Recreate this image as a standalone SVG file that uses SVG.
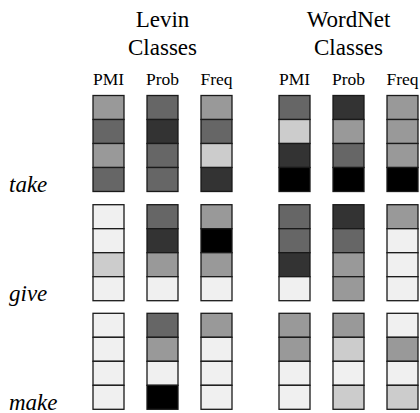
<svg xmlns="http://www.w3.org/2000/svg" width="420" height="413" viewBox="0 0 420 413">
  <style>
    text { font-family: "Liberation Serif", "Times New Roman", serif; fill: #000; }
    .title { font-size: 23px; text-anchor: middle; }
    .col { font-size: 17.5px; text-anchor: middle; }
    .verb { font-size: 23px; font-style: italic; }
    rect { stroke: #1a1a1a; stroke-width: 1.3; }
    .w { fill: #f0f0f0; }
    .l { fill: #cccccc; }
    .m { fill: #999999; }
    .d { fill: #666666; }
    .v { fill: #333333; }
    .k { fill: #000000; }
  </style>
  <defs>
    <!-- one cell of a column strip -->
    <rect id="cell" width="31" height="24"/>
  </defs>

  <!-- headings -->
  <g id="headings">
    <text class="title" x="162.5" y="27">Levin</text>
    <text class="title" x="162.5" y="55">Classes</text>
    <text class="title" x="348.5" y="27">WordNet</text>
    <text class="title" x="348.5" y="55">Classes</text>
    <text class="col" x="108.5" y="85">PMI</text>
    <text class="col" x="162.5" y="85">Prob</text>
    <text class="col" x="216.5" y="85">Freq</text>
    <text class="col" x="294.5" y="85">PMI</text>
    <text class="col" x="348.5" y="85">Prob</text>
    <text class="col" x="402.5" y="85">Freq</text>
  </g>

  <!-- verb labels -->
  <g id="verbs">
    <text class="verb" x="9" y="192">take</text>
    <text class="verb" x="9" y="301">give</text>
    <text class="verb" x="9" y="409.5">make</text>
  </g>

  <!-- take -->
  <g id="take">
    <g id="take-levin-pmi" transform="translate(93,95.5)">
      <rect class="m" y="0" width="31" height="24"/><rect class="d" y="24" width="31" height="24"/>
      <rect class="m" y="48" width="31" height="24"/><rect class="d" y="72" width="31" height="24"/>
    </g>
    <g id="take-levin-prob" transform="translate(147,95.5)">
      <rect class="d" y="0" width="31" height="24"/><rect class="v" y="24" width="31" height="24"/>
      <rect class="d" y="48" width="31" height="24"/><rect class="d" y="72" width="31" height="24"/>
    </g>
    <g id="take-levin-freq" transform="translate(201,95.5)">
      <rect class="m" y="0" width="31" height="24"/><rect class="d" y="24" width="31" height="24"/>
      <rect class="l" y="48" width="31" height="24"/><rect class="v" y="72" width="31" height="24"/>
    </g>
    <g id="take-wn-pmi" transform="translate(279,95.5)">
      <rect class="d" y="0" width="31" height="24"/><rect class="l" y="24" width="31" height="24"/>
      <rect class="v" y="48" width="31" height="24"/><rect class="k" y="72" width="31" height="24"/>
    </g>
    <g id="take-wn-prob" transform="translate(333,95.5)">
      <rect class="v" y="0" width="31" height="24"/><rect class="m" y="24" width="31" height="24"/>
      <rect class="d" y="48" width="31" height="24"/><rect class="k" y="72" width="31" height="24"/>
    </g>
    <g id="take-wn-freq" transform="translate(387,95.5)">
      <rect class="m" y="0" width="31" height="24"/><rect class="m" y="24" width="31" height="24"/>
      <rect class="m" y="48" width="31" height="24"/><rect class="k" y="72" width="31" height="24"/>
    </g>
  </g>

  <!-- give -->
  <g id="give">
    <g id="give-levin-pmi" transform="translate(93,204.7)">
      <rect class="w" y="0" width="31" height="24"/><rect class="w" y="24" width="31" height="24"/>
      <rect class="l" y="48" width="31" height="24"/><rect class="w" y="72" width="31" height="24"/>
    </g>
    <g id="give-levin-prob" transform="translate(147,204.7)">
      <rect class="d" y="0" width="31" height="24"/><rect class="v" y="24" width="31" height="24"/>
      <rect class="m" y="48" width="31" height="24"/><rect class="w" y="72" width="31" height="24"/>
    </g>
    <g id="give-levin-freq" transform="translate(201,204.7)">
      <rect class="m" y="0" width="31" height="24"/><rect class="k" y="24" width="31" height="24"/>
      <rect class="m" y="48" width="31" height="24"/><rect class="w" y="72" width="31" height="24"/>
    </g>
    <g id="give-wn-pmi" transform="translate(279,204.7)">
      <rect class="d" y="0" width="31" height="24"/><rect class="d" y="24" width="31" height="24"/>
      <rect class="v" y="48" width="31" height="24"/><rect class="w" y="72" width="31" height="24"/>
    </g>
    <g id="give-wn-prob" transform="translate(333,204.7)">
      <rect class="v" y="0" width="31" height="24"/><rect class="d" y="24" width="31" height="24"/>
      <rect class="m" y="48" width="31" height="24"/><rect class="m" y="72" width="31" height="24"/>
    </g>
    <g id="give-wn-freq" transform="translate(387,204.7)">
      <rect class="m" y="0" width="31" height="24"/><rect class="w" y="24" width="31" height="24"/>
      <rect class="w" y="48" width="31" height="24"/><rect class="w" y="72" width="31" height="24"/>
    </g>
  </g>

  <!-- make -->
  <g id="make">
    <g id="make-levin-pmi" transform="translate(93,313.3)">
      <rect class="w" y="0" width="31" height="24"/><rect class="w" y="24" width="31" height="24"/>
      <rect class="w" y="48" width="31" height="24"/><rect class="w" y="72" width="31" height="24"/>
    </g>
    <g id="make-levin-prob" transform="translate(147,313.3)">
      <rect class="d" y="0" width="31" height="24"/><rect class="m" y="24" width="31" height="24"/>
      <rect class="w" y="48" width="31" height="24"/><rect class="k" y="72" width="31" height="24"/>
    </g>
    <g id="make-levin-freq" transform="translate(201,313.3)">
      <rect class="m" y="0" width="31" height="24"/><rect class="w" y="24" width="31" height="24"/>
      <rect class="w" y="48" width="31" height="24"/><rect class="w" y="72" width="31" height="24"/>
    </g>
    <g id="make-wn-pmi" transform="translate(279,313.3)">
      <rect class="m" y="0" width="31" height="24"/><rect class="m" y="24" width="31" height="24"/>
      <rect class="w" y="48" width="31" height="24"/><rect class="w" y="72" width="31" height="24"/>
    </g>
    <g id="make-wn-prob" transform="translate(333,313.3)">
      <rect class="m" y="0" width="31" height="24"/><rect class="l" y="24" width="31" height="24"/>
      <rect class="w" y="48" width="31" height="24"/><rect class="l" y="72" width="31" height="24"/>
    </g>
    <g id="make-wn-freq" transform="translate(387,313.3)">
      <rect class="w" y="0" width="31" height="24"/><rect class="m" y="24" width="31" height="24"/>
      <rect class="w" y="48" width="31" height="24"/><rect class="l" y="72" width="31" height="24"/>
    </g>
  </g>
</svg>
